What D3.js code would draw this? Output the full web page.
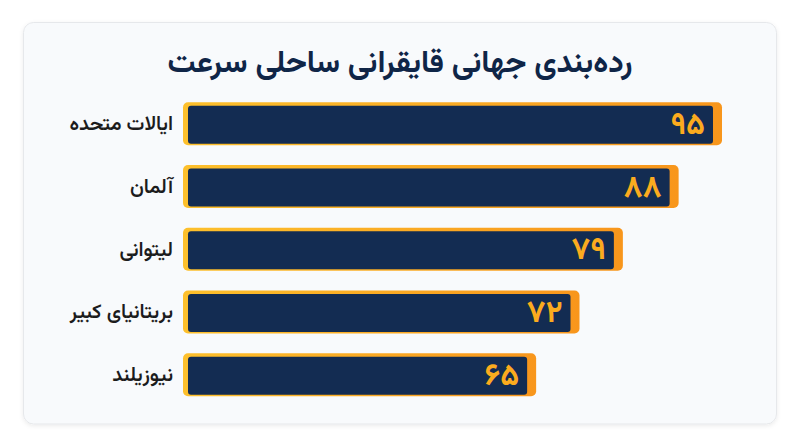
<html>
  <head>
    <meta charset="utf-8" />
    <script src="https://cdn.jsdelivr.net/npm/d3@7"></script>
    <style>
      * {
        margin: 0;
        padding: 0;
      }
      body {
        background: #ffffff;
        font-family: "Vazirmatn", "Noto Sans Arabic", "DejaVu Sans", sans-serif;
      }
    </style>
  </head>
  <body>
    <div id="chart"></div>
    <script>
      const title = "رده‌بندی جهانی قایقرانی ساحلی سرعت";
      const countries = ["ایالات متحده", "آلمان", "لیتوانی", "بریتانیای کبیر", "نیوزیلند"];
      const scores = [95, 88, 79, 72, 65];
      const scoreLabels = ["۹۵", "۸۸", "۷۹", "۷۲", "۶۵"];

      const w = 800;
      const h = 447;
      const data = countries.map((c, i) => ({ name: c, value: scores[i], label: scoreLabels[i] }));

      const svg = d3
        .select("#chart")
        .append("svg")
        .attr("width", w)
        .attr("height", h);

      const defs = svg.append("defs");
      const shadow = defs.append("filter").attr("id", "shadow").attr("x", "-5%").attr("y", "-5%").attr("width", "110%").attr("height", "115%");
      shadow.append("feDropShadow").attr("dx", 0).attr("dy", 1.5).attr("stdDeviation", 2).attr("flood-color", "#000").attr("flood-opacity", 0.08);

      const grad = defs.append("linearGradient").attr("id", "orange").attr("x1", "0%").attr("x2", "100%");
      grad.append("stop").attr("offset", "0%").attr("stop-color", "#fdc02c");
      grad.append("stop").attr("offset", "100%").attr("stop-color", "#f8961c");

      // card
      svg
        .append("rect")
        .attr("x", 23.5)
        .attr("y", 22.5)
        .attr("width", 753)
        .attr("height", 401.5)
        .attr("rx", 10)
        .attr("fill", "#f8fafc")
        .attr("stroke", "#e6e8eb")
        .attr("filter", "url(#shadow)");

      svg
        .append("text")
        .attr("x", 400)
        .attr("y", 72)
        .attr("text-anchor", "middle")
        .attr("font-size", 31)
        .attr("font-weight", 700)
        .attr("fill", "#0f2547")
        .text(title);

      const x = d3.scaleLinear().domain([8, 95]).range([183, 722]);
      const y = d3
        .scaleBand()
        .domain(countries)
        .range([102.3, 396.3])
        .paddingInner(0.315)
        .paddingOuter(0);

      const rows = svg
        .selectAll(".row")
        .data(data)
        .enter()
        .append("g")
        .attr("class", "row");

      rows
        .append("rect")
        .attr("x", x(8))
        .attr("y", (d) => y(d.name))
        .attr("width", (d) => x(d.value) - x(8))
        .attr("height", y.bandwidth())
        .attr("rx", 5)
        .attr("fill", "url(#orange)");

      rows
        .append("rect")
        .attr("x", x(8) + 5)
        .attr("y", (d) => y(d.name) + 3.5)
        .attr("width", (d) => x(d.value) - x(8) - 14)
        .attr("height", y.bandwidth() - 5)
        .attr("rx", 3)
        .attr("fill", "#132c52");

      rows
        .append("text")
        .attr("x", (d) => x(d.value) - 17)
        .attr("y", (d) => y(d.name) + y.bandwidth() / 2 + 2)
        .attr("dominant-baseline", "middle")
        .attr("text-anchor", "end")
        .attr("font-size", 31)
        .attr("font-weight", 700)
        .attr("fill", "#fbab1e")
        .text((d) => d.label);

      rows
        .append("text")
        .attr("x", 173)
        .attr("y", (d) => y(d.name) + y.bandwidth() / 2 + 1)
        .attr("dominant-baseline", "middle")
        .attr("text-anchor", "end")
        .attr("font-size", 20)
        .attr("font-weight", 600)
        .attr("fill", "#1c1c1c")
        .text((d) => d.name);
    </script>
  </body>
</html>
